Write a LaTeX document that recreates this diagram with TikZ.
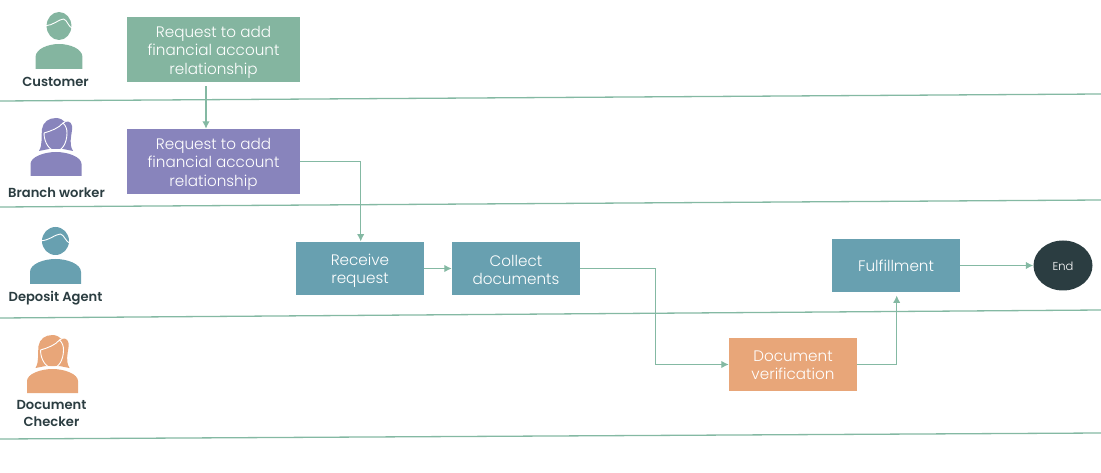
\documentclass[tikz,border=0pt]{standalone}
\usepackage{fontspec}
\setmainfont{Poppins Light}[BoldFont=Poppins SemiBold]
\usetikzlibrary{arrows.meta,shapes.geometric}
\definecolor{custgreen}{HTML}{84B5A0}
\definecolor{branchpurple}{HTML}{8884BC}
\definecolor{agentteal}{HTML}{68A0B0}
\definecolor{checkorange}{HTML}{E8A679}
\definecolor{enddark}{HTML}{2B3D41}
\definecolor{laneline}{HTML}{84B9A3}
\tikzset{
  boxtext/.style={text=white,inner sep=0pt,align=center,font=\fontsize{15.2}{18.4}\selectfont},
  stepbox/.style={rectangle,fill=#1,inner sep=0pt},
  tallbox/.style={stepbox=#1,minimum width=173,minimum height=65},
  flatbox/.style={stepbox=#1,minimum width=128,minimum height=53.5},
  who/.style={text=enddark,align=center,font=\fontsize{13.1}{17}\selectfont\bfseries},
  flow/.style={-{Latex[length=7.5pt,width=7.5pt]},laneline,line width=1.3pt},
  man/.pic={
    \fill[#1] (-25.5,0) -- (-25.5,-12) .. controls (-25.5,-20) and (-12,-25) .. (0,-25)
      .. controls (12,-25) and (25.5,-20) .. (25.5,-12) -- (25.5,0) -- cycle;
    \fill[#1] (0,-43) ellipse[x radius=13.5,y radius=14];
    \draw[white,line width=.9pt] (-15,-43.3) .. controls (-7,-43) and (0,-50) .. (5,-50)
      .. controls (9,-49) and (10,-42) .. (15,-40.5);
  },
  woman/.pic={
    \fill[#1] (-25.5,0) -- (-25.5,-12) .. controls (-25.5,-19) and (-12,-24) .. (0,-24)
      .. controls (12,-24) and (25.5,-19) .. (25.5,-12) -- (25.5,0) -- cycle;
    \fill[#1] (-17,-25) .. controls (-13,-32) and (-15,-40) .. (-14,-47)
      .. controls (-13,-54) and (-7,-58) .. (0,-58)
      .. controls (4,-58) and (7,-56) .. (9,-54)
      .. controls (14,-56) and (17,-52) .. (16,-46)
      .. controls (15,-38) and (13,-32) .. (17,-25) -- (7,-27) -- (-7,-27) -- cycle;
    \draw[white,line width=.9pt] (-12,-43) .. controls (-12,-33) and (-6,-25) .. (0,-25)
      .. controls (6,-25) and (11,-33) .. (11,-43)
      .. controls (11,-47) and (10,-50) .. (7,-53)
      .. controls (3,-48) and (-5,-45) .. (-12,-43);
    \draw[white,line width=.9pt] (7,-53) -- (9,-54);
  }
}
\begin{document}
\begin{tikzpicture}[x=1pt,y=-1pt]
    \useasboundingbox (0,0) rectangle (1101,473);
    \foreach \lane/\ya/\yb in {1/101/94,2/207/200,3/318/310,4/439/433} {
      \coordinate (L\lane) at (0,\ya);
      \coordinate (R\lane) at (1101,\yb);
      \draw[laneline,line width=1.3pt] (L\lane) -- (R\lane);
    }

    \path (59,69) pic[xscale=.92] {man=custgreen};
    \path (56,176) pic {woman=branchpurple};
    \path (55.5,284) pic {man=agentteal};
    \path (52.5,393) pic {woman=checkorange};

    \node[who] (custlab) at (55.5,81.5) {Customer};
    \node[who] (branchlab) at (56.5,192.5) {Branch worker};
    \node[who] (agentlab) at (55.5,298.5) {Deposit Agent};
    \node[who] (checklab) at (51.5,413) {Document\\Checker};

    \node[tallbox=custgreen,label={[boxtext,yshift=-2.6pt]center:{Request to add\\financial account\\relationship}}] (cust) at (213.5,49.5) {};
    \node[tallbox=branchpurple,label={[boxtext,yshift=-2.6pt]center:{Request to add\\financial account\\relationship}}] (branch) at (213.5,161.5) {};
    \node[flatbox=agentteal,label={[boxtext,yshift=-2.4pt]center:{Receive\\request}}] (receive) at (360,268.5) {};
    \node[flatbox=agentteal,label={[boxtext,yshift=-1.4pt]center:{Collect\\documents}}] (collect) at (516,268.5) {};
    \node[flatbox=agentteal,label={[boxtext,yshift=-.2pt]center:{Fulfillment}}] (fulfil) at (896,265.5) {};
    \node[flatbox=checkorange,label={[boxtext,yshift=-.6pt]center:{Document\\verification}}] (verify) at (793,364.5) {};
    \node[ellipse,fill=enddark,inner sep=0pt,minimum width=59,minimum height=50,label={[text=white,inner sep=0pt,yshift=-.8pt,font=\fontsize{11.5}{14}\selectfont]center:{End}}] (end) at (1063,265.5) {};

    \draw[flow,shorten <=4pt] ([xshift=-7.5pt]cust.south) -- ([xshift=-7.5pt]branch.north);
    \draw[flow] (branch.east) -| ([xshift=.7pt]receive.north);
    \draw[flow] (receive.east) -- (collect.west);
    \draw[flow] (collect.east) -- ++(75,0) |- (verify.west);
    \draw[flow,shorten >=3pt] (verify.east) -| ([xshift=.7pt]fulfil.south);
    \draw[flow] (fulfil.east) -- (end.west);
\end{tikzpicture}
\end{document}
